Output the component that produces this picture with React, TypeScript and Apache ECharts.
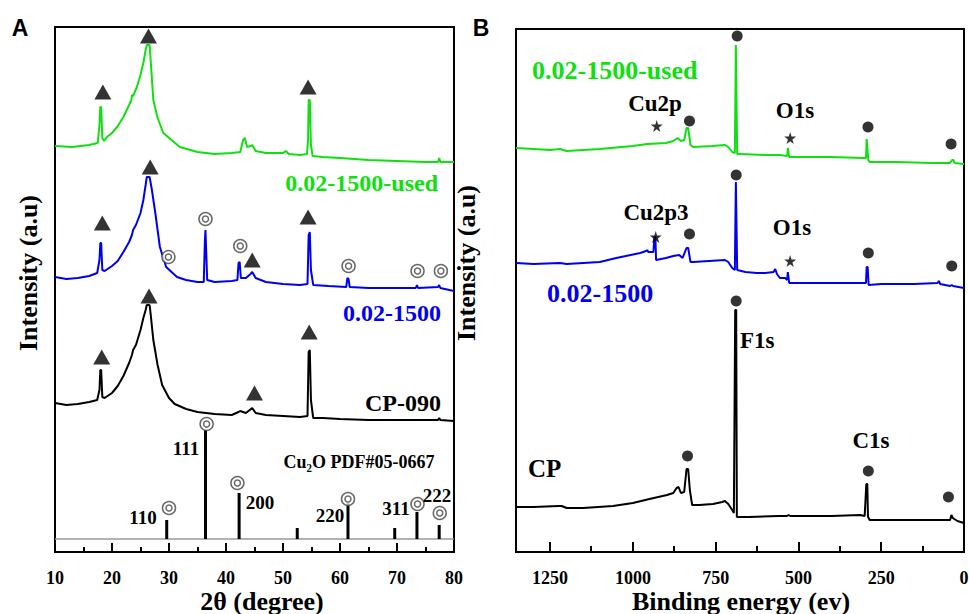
import React, { useEffect, useRef } from "react";
import * as echarts from "echarts";

// ---------- Panel A: XRD (2θ, intensity a.u.) ----------
const xrdUsed: [number, number][] = [
  [10, 406], [13, 405], [16, 407], [17.5, 409], [17.8, 427], [17.95, 445], [18.1, 445], [18.3, 414], [18.6, 411],
  [19.1, 415], [20, 419], [20.9, 425], [22, 435], [23, 447], [23.4, 452], [23.5, 457], [23.7, 456], [24.3, 464],
  [24.9, 475], [25.5, 489], [25.9, 502], [26.1, 507], [26.6, 507], [26.9, 482], [27.25, 452], [28, 434], [29, 419],
  [31.9, 405], [35, 400], [38, 398], [41, 399], [42.5, 400], [43.0, 412], [43.3, 414], [43.7, 405], [44.3, 406],
  [44.6, 407], [45.2, 401], [47, 399], [50, 399], [50.5, 401], [51, 398], [53, 397], [54.2, 398], [54.4, 412],
  [54.5, 452], [54.7, 452], [54.9, 407], [55.2, 396], [57, 395], [60, 394], [65, 392], [70, 391], [75, 390],
  [77.2, 390], [77.4, 394], [77.6, 390], [80, 390],
];
const xrd1500: [number, number][] = [
  [10, 275], [12, 273], [14, 274], [16, 276], [17.4, 279], [17.8, 292], [17.95, 309], [18.1, 309], [18.3, 282],
  [18.7, 281], [20, 286], [21, 291], [22, 300], [23, 310], [23.5, 317], [23.7, 322], [24.2, 327], [25, 339],
  [25.5, 352], [25.9, 367], [26.1, 375], [26.6, 375], [27.0, 362], [27.6, 339], [28.4, 305], [29.5, 285],
  [31.4, 275], [33, 272], [35, 270], [36.1, 270], [36.3, 312], [36.4, 322], [36.5, 322], [36.7, 272], [38, 270],
  [41, 271], [42.0, 272], [42.2, 289], [42.4, 290], [42.6, 274], [43.5, 274], [44.3, 278], [44.6, 280], [45.2, 274],
  [47, 270], [50, 268], [53, 267], [54.3, 268], [54.5, 317], [54.7, 320], [54.9, 282], [55.3, 267], [58, 266],
  [61.1, 265], [61.3, 274], [61.5, 273], [61.7, 265], [65, 264], [70, 264], [73.3, 264], [73.5, 267], [73.7, 264],
  [77.2, 265], [77.4, 267], [77.6, 264], [80, 261],
];
const xrdCP090: [number, number][] = [
  [10, 149], [12, 147], [14, 148], [16, 150], [17.4, 152], [17.8, 162], [17.95, 182], [18.1, 182], [18.3, 155],
  [18.7, 154], [20, 159], [21, 166], [22, 176], [23, 189], [23.5, 197], [23.7, 202], [24.2, 207], [25, 222],
  [25.5, 234], [25.9, 242], [26.1, 247], [26.6, 247], [26.8, 237], [27.25, 212], [28, 187], [28.8, 167], [30, 154],
  [31, 148], [33, 143], [35, 140], [38, 138], [41, 137], [42.2, 140], [42.5, 141], [43.5, 139], [44.6, 144],
  [45.2, 139], [47, 137], [50, 136], [53, 135], [54.3, 136], [54.5, 200], [54.7, 202], [54.9, 152], [55.3, 134],
  [57, 134], [60, 133], [65, 132], [70, 132], [77.2, 132], [77.4, 134], [77.6, 132], [80, 131],
];
// Cu2O PDF#05-0667 reference sticks
const stickPos = [29.6, 36.4, 42.3, 52.5, 61.4, 69.6, 73.5, 77.4];
const stickTop = [32, 122, 59, 24, 49, 24, 40, 27];
const stickBase = 13;

const triUsed: [number, number][] = [[18.4, 460], [26.4, 516], [54.4, 465]];
const tri1500: [number, number][] = [[18.3, 329], [26.7, 385], [44.6, 292], [54.4, 335]];
const triCP090: [number, number][] = [[18.2, 195], [26.5, 256], [45.0, 159], [54.6, 220]];
const ringsA: [number, number][] = [
  [29.9, 295], [36.4, 333], [42.5, 306], [61.5, 286], [73.6, 281], [77.7, 281],
  [30.0, 44], [36.6, 128], [42.0, 69], [61.4, 53], [73.6, 48], [77.5, 39],
];

// ---------- Panel B: XPS (binding energy, intensity a.u.) ----------
const xpsUsed: [number, number][] = [
  [1353, 404], [1300, 403], [1250, 402], [1220, 403], [1200, 401], [1100, 403], [1000, 406], [957, 408], [900, 409],
  [878, 411], [865, 414], [855, 411], [845, 412], [838, 424], [833, 424], [826, 407], [818, 405], [760, 406],
  [722, 407], [712, 405], [700, 400], [692, 399], [689, 507], [687, 507], [685, 398], [676, 398], [600, 397],
  [556, 397], [534, 396], [532, 404], [530, 404], [528, 395], [400, 395], [305, 394], [296, 394], [294, 413],
  [292, 413], [289, 392], [285, 390], [200, 390], [100, 389], [42, 389], [36, 392], [32, 392], [28, 389], [0, 388],
];
const xps1500: [number, number][] = [
  [1353, 289], [1300, 288], [1220, 289], [1200, 288], [1100, 290], [1050, 294], [978, 299], [960, 301], [956, 302],
  [954, 300], [945, 300], [938, 300], [935, 315], [932, 315], [930, 292], [900, 294], [878, 296], [860, 297],
  [850, 294], [838, 304], [833, 304], [826, 290], [818, 290], [722, 292], [712, 290], [700, 284], [692, 282],
  [689, 370], [687, 370], [685, 282], [660, 280], [626, 279], [600, 279], [575, 280], [570, 283], [565, 278],
  [556, 274], [540, 274], [534, 272], [532, 280], [530, 280], [528, 269], [400, 269], [305, 269], [296, 269],
  [294, 285], [291, 285], [288, 267], [250, 268], [150, 268], [80, 269], [76, 271], [72, 268], [42, 266], [37, 267],
  [33, 266], [0, 264],
];
const xpsCP: [number, number][] = [
  [1353, 45], [1300, 45], [1225, 46], [1215, 46], [1200, 44], [1150, 44], [1060, 46], [1000, 49], [950, 53],
  [897, 57], [878, 59], [868, 64], [862, 65], [855, 59], [845, 60], [838, 83], [833, 83], [828, 62], [821, 47],
  [800, 47], [758, 48], [730, 50], [722, 51], [712, 48], [700, 42], [695, 39], [691, 242], [688, 242], [686, 35],
  [650, 35], [560, 36], [535, 36], [530, 37], [525, 36], [400, 36], [314, 37], [300, 36], [295, 68], [292, 68],
  [290, 35], [288, 34], [285, 32], [200, 32], [100, 32], [42, 32], [38, 37], [34, 34], [20, 31], [0, 29],
];
const starsB: [number, number][] = [[928, 426], [525, 414], [931, 315], [525, 291]];
const dotsB: [number, number][] = [
  [829, 431], [685, 516], [290, 425], [39, 408],
  [829, 318], [688, 377], [289, 299], [37, 286],
  [688, 251], [835, 96], [289, 81], [47, 55],
];

// tick values for panel B
const xMajorB = [0, 250, 500, 750, 1000, 1250];
const xMinorB = [125, 375, 625, 875, 1125];

const GREEN = "#10e010";
const BLUE = "#0000f0";
const SERIF = '"Liberation Serif", "Times New Roman", serif';
const STAR = "path://M50,0 L61,35 L98,35 L68,57 L79,91 L50,70 L21,91 L32,57 L2,35 L39,35 Z";

function txt(text: string, x: number, y: number, size: number, color = "#000", align = "center", rotation = 0, family = SERIF) {
  return {
    type: "text",
    x,
    y,
    rotation,
    z: 100,
    style: { text, fill: color, fontSize: size, fontWeight: "bold", fontFamily: family, align, verticalAlign: "middle" },
  };
}

export default function App() {
  const ref = useRef<HTMLDivElement>(null);
  useEffect(() => {
    if (!ref.current) return;
    const chart = echarts.init(ref.current, undefined, { renderer: "svg" });
    const axLabel = { color: "#000", fontSize: 18, fontWeight: "bold", fontFamily: SERIF, margin: 17, formatter: (v: number) => String(v) };
    const tickStyle = { color: "#000", width: 2 };
    const lineS = (data: [number, number][], color: string, xi: number, yi: number) => ({
      type: "line",
      data,
      xAxisIndex: xi,
      yAxisIndex: yi,
      symbol: "none",
      showSymbol: false,
      lineStyle: { color, width: 2 },
      itemStyle: { color },
      z: 3,
    });
    const texts = [
      txt("A", 20, 28, 23, "#000", "center", 0, '"Liberation Sans", Arial, sans-serif'),
      txt("B", 481, 28, 23, "#000", "center", 0, '"Liberation Sans", Arial, sans-serif'),
      txt("0.02-1500-used", 438, 183, 24, GREEN, "right"),
      txt("0.02-1500", 441, 313, 24, BLUE, "right"),
      txt("CP-090", 441, 403, 24, "#000", "right"),
      txt("111", 186, 448, 19),
      txt("110", 143, 517, 19),
      txt("200", 260, 502, 19),
      txt("220", 330, 515, 19),
      txt("311", 396, 508, 19),
      txt("222", 437, 495, 19),
      txt("Cu\u2082O PDF#05-0667", 359, 462, 18),
      txt("Intensity (a.u)", 28, 273, 26, "#000", "center", Math.PI / 2),
      txt("2\u03b8 (degree)", 262, 601, 26),
      txt("0.02-1500-used", 532, 70, 26, GREEN, "left"),
      txt("Cu2p", 655, 103, 23),
      txt("O1s", 795, 110, 23),
      txt("Cu2p3", 656, 212, 23),
      txt("O1s", 792, 227, 23),
      txt("0.02-1500", 547, 293, 26, BLUE, "left"),
      txt("F1s", 740, 340, 23, "#000", "left"),
      txt("C1s", 871, 440, 23),
      txt("CP", 528, 468, 25, "#000", "left"),
      txt("Intensity (a.u)", 466, 263, 26, "#000", "center", Math.PI / 2),
      txt("Binding energy (ev)", 741, 601, 26),
    ];
    const option: any = {
      animation: false,
      backgroundColor: "#fff",
      grid: [
        { left: 55, top: 27, width: 399, height: 525, show: true, borderColor: "#000", borderWidth: 2, outerBoundsMode: "none" },
        { left: 516, top: 29, width: 448, height: 523, show: true, borderColor: "#000", borderWidth: 2, outerBoundsMode: "none" },
      ],
      xAxis: [
        {
          gridIndex: 0, type: "value", min: 10, max: 80, interval: 10,
          axisLine: { show: true, lineStyle: { color: "#000", width: 2 } },
          axisTick: { show: true, inside: true, length: 9, lineStyle: tickStyle },
          minorTick: { show: true, splitNumber: 2, length: 5, lineStyle: tickStyle },
          splitLine: { show: false },
          minorSplitLine: { show: false },
          axisLabel: axLabel,
        },
        {
          gridIndex: 1, type: "value", min: 0, max: 1353, interval: 250, inverse: true,
          axisLine: { show: true, lineStyle: { color: "#000", width: 2 } },
          axisTick: { show: true, inside: true, length: 10, lineStyle: tickStyle },
          splitLine: { show: false },
          axisLabel: { ...axLabel, customValues: xMajorB },
        },
      ],
      yAxis: [
        { gridIndex: 0, type: "value", min: 0, max: 525, show: false, splitLine: { show: false } },
        { gridIndex: 1, type: "value", min: 0, max: 523, show: false, splitLine: { show: false } },
      ],
      series: [
        lineS(xrdUsed, GREEN, 0, 0),
        lineS(xrd1500, BLUE, 0, 0),
        lineS(xrdCP090, "#000", 0, 0),
        {
          type: "line", xAxisIndex: 0, yAxisIndex: 0, symbol: "none",
          data: [[10, stickBase], [80, stickBase]],
          lineStyle: { color: "#9a9a9a", width: 1.5 }, z: 2,
        },
        {
          type: "custom", xAxisIndex: 0, yAxisIndex: 0, z: 3,
          data: stickPos.map((x, i) => [x, stickBase, stickTop[i]]),
          encode: { x: 0, y: [1, 2] },
          renderItem: (_p: any, api: any) => {
            const a = api.coord([api.value(0), api.value(1)]);
            const b = api.coord([api.value(0), api.value(2)]);
            return { type: "line", shape: { x1: a[0], y1: a[1], x2: b[0], y2: b[1] }, style: { stroke: "#000", lineWidth: 3 } };
          },
        },
        ...[triUsed, tri1500, triCP090].map((d) => ({
          type: "scatter", xAxisIndex: 0, yAxisIndex: 0, data: d, symbol: "triangle", symbolSize: [17, 15],
          itemStyle: { color: "#000" }, z: 5,
        })),
        {
          type: "scatter", xAxisIndex: 0, yAxisIndex: 0, data: ringsA, symbol: "circle", symbolSize: 13,
          itemStyle: { color: "#fff", borderColor: "#444", borderWidth: 1.5 }, z: 5,
        },
        {
          type: "scatter", xAxisIndex: 0, yAxisIndex: 0, data: ringsA, symbol: "circle", symbolSize: 6,
          itemStyle: { color: "#fff", borderColor: "#444", borderWidth: 1.5 }, z: 6,
        },
        lineS(xpsUsed, GREEN, 1, 1),
        lineS(xps1500, BLUE, 1, 1),
        lineS(xpsCP, "#000", 1, 1),
        {
          type: "scatter", xAxisIndex: 1, yAxisIndex: 1, data: starsB, symbol: STAR, symbolSize: 12,
          itemStyle: { color: "#000" }, z: 5,
        },
        {
          type: "scatter", xAxisIndex: 1, yAxisIndex: 1, data: dotsB, symbol: "circle", symbolSize: 11,
          itemStyle: { color: "#000" }, z: 5,
        },
      ],
      graphic: texts,
    };
    chart.setOption(option);

    // minor ticks of panel B, placed through the axis scale
    const minor: any[] = [];
    xMinorB.forEach((v) => {
      const p = chart.convertToPixel({ xAxisIndex: 1, yAxisIndex: 1 }, [v, 0]) as number[];
      if (!p) return;
      minor.push({
        type: "rect",
        z: 120,
        silent: true,
        shape: { x: Math.round(p[0]) - 1, y: Math.round(p[1]) - 6, width: 2, height: 6 },
        style: { fill: "#000" },
      });
    });
    chart.setOption({ graphic: [...texts, ...minor] });
    return () => chart.dispose();
  }, []);
  return <div ref={ref} style={{ position: "fixed", left: 0, top: 0, width: 969, height: 614, background: "#fff" }} />;
}
